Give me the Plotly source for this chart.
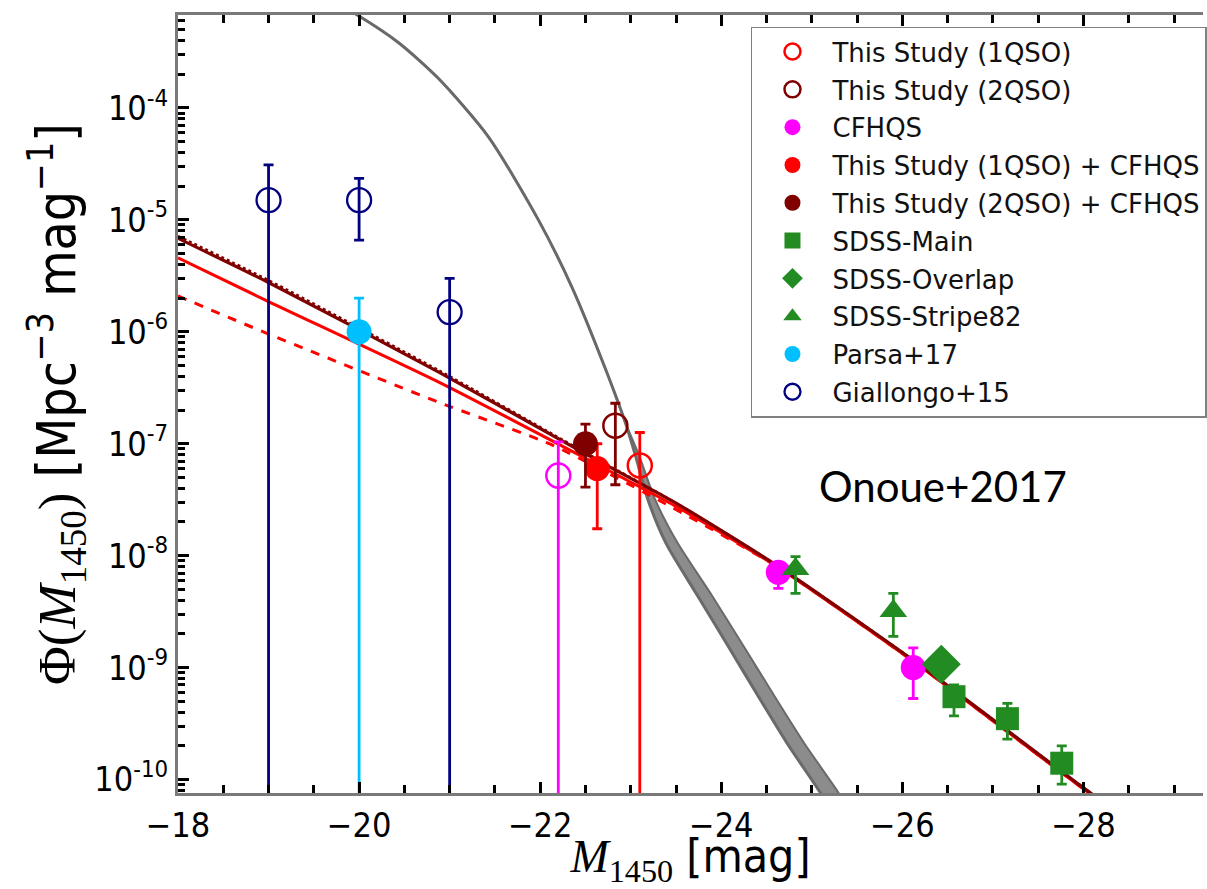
import plotly.graph_objects as go

# ---- data: quasar UV luminosity function at z~6 ----
# Giallongo+15 (open navy circles)
gia_mag = [-19.0, -20.0, -21.0]
gia_phi = [1.5e-5, 1.5e-5, 1.5e-6]
gia_hi = [3.1e-5, 2.35e-5, 3.0e-6]
gia_lo = [1e-11, 6.6e-6, 1e-11]

# Parsa+17
par_mag = [-20.0]
par_phi = [1.0e-6]
par_hi = [2.0e-6]
par_lo = [1e-11]

# This Study (1QSO), open red
s1_mag = [-23.1]
s1_phi = [6.4e-8]
s1_hi = [1.26e-7]
s1_lo = [1e-11]

# This Study (2QSO), open dark red
s2_mag = [-22.83]
s2_phi = [1.45e-7]
s2_hi = [2.3e-7]
s2_lo = [4.3e-8]

# CFHQS faint bin (open magenta)
cfo_mag = [-22.2]
cfo_phi = [5.2e-8]
cfo_hi = [1.04e-7]
cfo_lo = [1e-11]

# This Study (1QSO) + CFHQS
s1c_mag = [-22.63]
s1c_phi = [6.0e-8]
s1c_hi = [1.0e-7]
s1c_lo = [1.74e-8]

# This Study (2QSO) + CFHQS
s2c_mag = [-22.5]
s2c_phi = [1.0e-7]
s2c_hi = [1.5e-7]
s2c_lo = [4.1e-8]

# CFHQS
cf_mag = [-24.63, -26.12]
cf_phi = [7.1e-9, 1.0e-9]
cf_hi = [8.5e-9, 1.5e-9]
cf_lo = [5.1e-9, 5.3e-10]

# SDSS samples
s82_mag = [-24.82, -25.90]
s82_phi = [7.6e-9, 3.2e-9]
s82_hi = [9.8e-9, 4.6e-9]
s82_lo = [4.6e-9, 1.9e-9]

ovl_mag = [-26.43]
ovl_phi = [1.07e-9]
ovl_hi = [1.3e-9]
ovl_lo = [8.5e-10]

main_mag = [-26.57, -27.16, -27.76]
main_phi = [5.5e-10, 3.5e-10, 1.4e-10]
main_hi = [7.0e-10, 4.8e-10, 2.0e-10]
main_lo = [3.7e-10, 2.3e-10, 9.1e-11]

# Double power-law fits (log10 Phi)
fit2_mag = [-18.0, -19.0, -20.88, -22.5, -23.5, -24.6, -26.13, -27.96, -28.3]
fit2_log = [-5.165, -5.56, -6.36, -7.09, -7.53, -8.08, -8.94, -10.05, -10.25]

fit2d_mag = [-18.0, -19.0, -20.88, -22.5, -23.5, -24.6, -26.13, -27.96, -28.3]
fit2d_log = [-5.145, -5.54, -6.345, -7.08, -7.53, -8.08, -8.94, -10.05, -10.25]

fit1_mag = [-18.0, -19.0, -20.88, -22.5, -23.5, -24.6, -26.13, -27.96, -28.3]
fit1_log = [-5.34, -5.73, -6.45, -7.13, -7.56, -8.09, -8.95, -10.06, -10.26]

fit1d_mag = [-18.0, -19.0, -20.88, -22.13, -23.3, -24.6, -26.13, -27.96, -28.3]
fit1d_log = [-5.68, -6.02, -6.63, -7.01, -7.50, -8.09, -8.95, -10.06, -10.26]

# Galaxy luminosity function band (log10 Phi), faint and bright edges
gal_lo_mag = [-19.80, -19.98, -20.44, -20.88, -21.43, -21.98, -22.35, -22.72, -22.94,
              -23.05, -23.19, -23.39, -23.74, -24.07, -24.40, -24.73, -25.08, -25.28]
gal_lo_log = [-3.09, -3.17, -3.42, -3.74, -4.26, -5.00, -5.60, -6.33, -6.81,
              -7.10, -7.50, -7.89, -8.36, -8.80, -9.245, -9.68, -10.10, -10.36]
gal_hi_mag = [-19.80, -19.98, -20.44, -20.88, -21.43, -21.98, -22.35, -22.72, -22.94,
              -23.09, -23.27, -23.52, -23.90, -24.24, -24.58, -24.92, -25.28, -25.48]
gal_hi_log = [-3.09, -3.17, -3.42, -3.74, -4.26, -5.00, -5.60, -6.33, -6.81,
              -7.10, -7.50, -7.89, -8.36, -8.80, -9.245, -9.68, -10.10, -10.36]

y_exps = [-10, -9, -8, -7, -6, -5, -4]

RED = "#ff0000"
DRED = "#800000"
MAG = "#ff00ff"
GRN = "#228b22"
CYAN = "#00bfff"
NAVY = "#000080"
GRAY = "#8c8c8c"

fig = go.Figure()

# galaxy LF band
fig.add_trace(go.Scatter(x=gal_lo_mag, y=[10 ** v for v in gal_lo_log], mode="lines",
                         line=dict(color="#6a6a6a", width=3, shape="spline", smoothing=0.7),
                         showlegend=False, hoverinfo="skip"))
fig.add_trace(go.Scatter(x=gal_hi_mag, y=[10 ** v for v in gal_hi_log], mode="lines",
                         line=dict(color="#6a6a6a", width=2, shape="spline", smoothing=0.7),
                         fill="tonexty", fillcolor=GRAY, showlegend=False, hoverinfo="skip"))

# fitted luminosity functions
def fit_line(xs, logs, color, width, dash="solid"):
    fig.add_trace(go.Scatter(x=xs, y=[10 ** v for v in logs], mode="lines",
                             line=dict(color=color, width=width, dash=dash,
                                       shape="spline", smoothing=0.6),
                             showlegend=False, hoverinfo="skip"))


fit_line(fit1d_mag, fit1d_log, RED, 3, "dash")
fit_line(fit1_mag, fit1_log, RED, 3)
fit_line(fit2_mag, fit2_log, DRED, 3.2)
fit_line(fit2d_mag, fit2d_log, DRED, 2.6, "dot")


def pts(name, xs, ys, hi, lo, color, symbol, size, lw=0, legend=True):
    fig.add_trace(go.Scatter(
        x=xs, y=ys, mode="markers", name=name, showlegend=legend,
        legendgroup=name,
        marker=dict(symbol=symbol, size=size, color=color,
                    line=dict(color=color, width=lw)),
        error_y=dict(type="data", symmetric=False,
                     array=[h - v for h, v in zip(hi, ys)],
                     arrayminus=[v - l for l, v in zip(lo, ys)],
                     color=color, thickness=2.8, width=5),
    ))


pts("CFHQS faint", cfo_mag, cfo_phi, cfo_hi, cfo_lo, MAG, "circle-open", 24, 2.5, legend=False)
pts("This Study (1QSO)", s1_mag, s1_phi, s1_hi, s1_lo, RED, "circle-open", 24, 2.5)
pts("This Study (2QSO)", s2_mag, s2_phi, s2_hi, s2_lo, DRED, "circle-open", 24, 2.5)
pts("CFHQS", cf_mag, cf_phi, cf_hi, cf_lo, MAG, "circle", 25)
pts("This Study (1QSO) + CFHQS", s1c_mag, s1c_phi, s1c_hi, s1c_lo, RED, "circle", 25)
pts("This Study (2QSO) + CFHQS", s2c_mag, s2c_phi, s2c_hi, s2c_lo, DRED, "circle", 25)
pts("SDSS-Main", main_mag, main_phi, main_hi, main_lo, GRN, "square", 23)
pts("SDSS-Overlap", ovl_mag, ovl_phi, ovl_hi, ovl_lo, GRN, "diamond", 30)
pts("SDSS-Stripe82", s82_mag, s82_phi, s82_hi, s82_lo, GRN, "triangle-up", 24)
pts("Parsa+17", par_mag, par_phi, par_hi, par_lo, CYAN, "circle", 25)
pts("Giallongo+15", gia_mag, gia_phi, gia_hi, gia_lo, NAVY, "circle-open", 24, 2.3)

fig.add_annotation(x=-26.45, y=-7.38, xref="x", yref="y", text="Onoue+2017",
                   showarrow=False, font=dict(family="Lato, Open Sans", size=42, color="black"))

TICKFONT = dict(family="DejaVu Sans Condensed, DejaVu Sans", size=34, color="black")
SERIF = "font-family:'Liberation Serif','DejaVu Serif'"

fig.update_xaxes(
    range=[-18, -29.32], tick0=-18, dtick=2, ticks="inside", ticklen=11, tickwidth=3,
    tickcolor="black", showline=True, linecolor="#7a7a7a", linewidth=3, mirror="ticks",
    showgrid=False, zeroline=False, tickfont=TICKFONT,
    minor=dict(dtick=0.5, tick0=-18, ticks="inside", ticklen=8, tickwidth=2.5,
               tickcolor="black", showgrid=False),
    title=dict(text=f"<span style=\"{SERIF}\"><i>M</i><sub>1450</sub></span> [mag]",
               font=dict(family="DejaVu Sans Condensed, DejaVu Sans", size=46, color="black"),
               standoff=9),
)
fig.update_yaxes(
    type="log", range=[-10.12, -3.17],
    tickvals=[10 ** e for e in y_exps],
    ticktext=[f"10<sup>{e}</sup>" for e in y_exps],
    ticks="inside", ticklen=11, tickwidth=3, tickcolor="black",
    showline=True, linecolor="#7a7a7a", linewidth=3, mirror=False,
    showgrid=False, zeroline=False, tickfont=TICKFONT,
    minor=dict(tickvals=[k * 10.0 ** e for e in range(-11, -3) for k in range(2, 10)],
               ticks="inside", ticklen=7, tickwidth=2.5, tickcolor="black", showgrid=False),
    title=dict(text=f"<span style=\"{SERIF}\">Φ(<i>M</i><sub>1450</sub>)</span> "
                    "[Mpc<sup>−3</sup> mag<sup>−1</sup>]",
               font=dict(family="DejaVu Sans Condensed, DejaVu Sans", size=53, color="black"),
               standoff=2),
)

fig.update_layout(
    width=1207, height=889,
    margin=dict(l=178, r=0, t=15, b=96),
    paper_bgcolor="white", plot_bgcolor="white",
    legend=dict(x=0.559, y=0.985, xanchor="left", yanchor="top",
                bgcolor="white", bordercolor="#808080", borderwidth=1.5,
                font=dict(family="DejaVu Sans", size=26, color="#111111"),
                itemsizing="trace", tracegroupgap=1, traceorder="grouped",
                itemwidth=70),
)

fig.write_html("out.html")
